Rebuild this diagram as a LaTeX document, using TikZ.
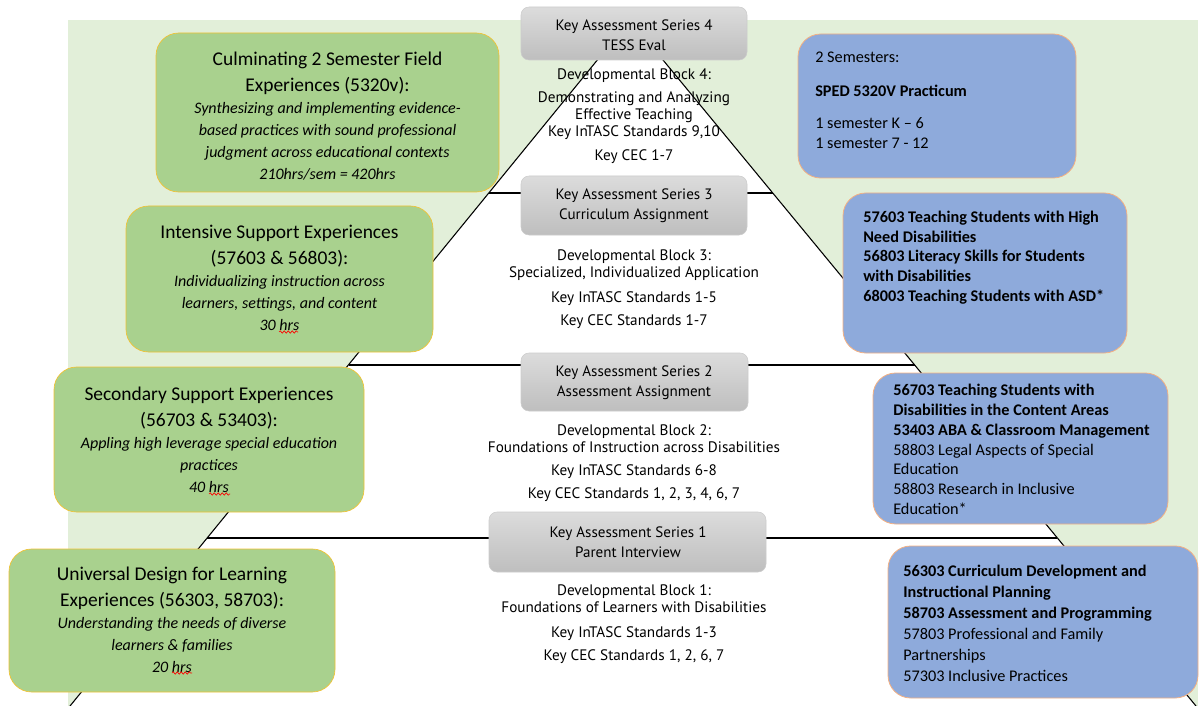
\documentclass[tikz,border=0pt]{standalone}
\usepackage{fontspec}
\setmainfont{Carlito}
\newfontfamily\gillfont{PT Sans}
\usetikzlibrary{fit,decorations.pathmorphing}

\definecolor{mapbg}{HTML}{E2EFD9}
\definecolor{leafgreen}{HTML}{A9D18E}
\definecolor{boxgold}{HTML}{F2C232}
\definecolor{skyblue}{HTML}{8EAADB}
\definecolor{boxorange}{HTML}{F4B183}
\definecolor{keytop}{HTML}{DCDCDC}
\definecolor{keybot}{HTML}{BEBEBE}

\newcommand\grtitle{\fontsize{14.6}{19}\selectfont}

\tikzset{
  pyrline/.style={line width=0.8, black},
  keybox/.style={draw=gray!40, top color=keytop, bottom color=keybot, rounded corners=6pt, inner sep=0pt},
  keytext/.style={align=center, inner sep=0pt, font=\gillfont\fontsize{11.3}{15.2}\selectfont},
  greenbox/.style={draw=boxgold, fill=leafgreen, line width=0.5, rounded corners=17pt, inner sep=0pt},
  greentext/.style={align=center, inner sep=0pt, font=\fontsize{12}{16.5}\selectfont},
  bluebox/.style={draw=boxorange, fill=skyblue, line width=0.6, rounded corners=17pt, inner sep=0pt},
  bluetext/.style={anchor=west, align=left, inner sep=0pt, font=\fontsize{12.2}{15}\selectfont},
  blocktext/.style={align=center, inner sep=0pt, font=\gillfont\fontsize{11.4}{12.75}\selectfont},
  spellwave/.style={red, line width=0.5, decorate, decoration={snake, amplitude=0.9, segment length=3}}
}

\begin{document}
\begin{tikzpicture}[x=0.75pt,y=0.75pt,yscale=-1,xscale=1]
\useasboundingbox (0,0) rectangle (1203,706);

%Background
\fill[mapbg] (68,20) rectangle (1198,706);
%Shape: Triangle
\fill[white] (630,20) -- (70,706) -- (1196,706) -- cycle;
\draw[pyrline] (70,706) -- (630,20) -- (1196,706);
%Straight Lines
\draw[pyrline] (489,193) -- (773,193);
\draw[pyrline, line width=1.6] (349,365) -- (915,365);
\draw[pyrline] (207,538) -- (1057,538);

%Key assessment boxes
\node[keybox, fit={(521,7) (747,60)}] (ka4) {};
\node[keybox, fit={(521,176) (747,235)}] (ka3) {};
\node[keybox, fit={(521,353) (748,411)}] (ka2) {};
\node[keybox, fit={(489,512) (766,572)}] (ka1) {};
\node[keytext] (ka4txt) at (634,35.5) {Key Assessment Series 4\\TESS Eval};
\node[keytext] (ka3txt) at (634,205.5) {Key Assessment Series 3\\Curriculum Assignment};
\node[keytext] (ka2txt) at (634,383) {Key Assessment Series 2\\Assessment Assignment};
\node[keytext] (ka1txt) at (628,542) {Key Assessment Series 1\\Parent Interview};

%Developmental blocks
\node[blocktext] (db4) at (634,116) {Developmental Block 4:\\[4.5pt] Demonstrating and Analyzing\\ Effective Teaching\\[0.5pt] Key InTASC Standards 9,10\\[5pt] Key CEC 1-7};
\node[blocktext] (db3) at (634,289.5) {Developmental Block 3:\\ Specialized, Individualized Application\\[6pt] Key InTASC Standards 1-5\\[4.5pt] Key CEC Standards 1-7};
\node[blocktext] (db2) at (634,463.5) {Developmental Block 2:\\ Foundations of Instruction across Disabilities\\[4.5pt] Key InTASC Standards 6-8\\[4.5pt] Key CEC Standards 1, 2, 3, 4, 6, 7};
\node[blocktext] (db1) at (634,624.5) {Developmental Block 1:\\ Foundations of Learners with Disabilities\\[6pt] Key InTASC Standards 1-3\\[4.5pt] Key CEC Standards 1, 2, 6, 7};

%Field experiences
\node[greenbox, fit={(156,33) (499,192)}] (cul) {};
\node[greenbox, fit={(126,206) (433,352)}] (ise) {};
\node[greenbox, fit={(54,367) (364,512)}] (sse) {};
\node[greenbox, fit={(9,549) (335,692)}] (udl) {};
\node[greentext] (cultxt) at (327.5,116.5) {{\grtitle Culminating 2 Semester Field}\\[3pt] {\grtitle Experiences (5320v):}\\ \textit{Synthesizing and implementing evidence-}\\ \textit{based practices with sound professional}\\ \textit{judgment across educational contexts}\\ \textit{210hrs/sem = 420hrs}};
\node[greentext] (isetxt) at (279.5,277.5) {{\grtitle Intensive Support Experiences}\\[3pt] {\grtitle (57603 \& 56803):}\\ \textit{Individualizing instruction across}\\ \textit{learners, settings, and content}\\ \textit{30 hrs}};
\node[greentext] (ssetxt) at (209,439.5) {{\grtitle Secondary Support Experiences}\\[3pt] {\grtitle (56703 \& 53403):}\\ \textit{Appling high leverage special education}\\ \textit{practices}\\ \textit{40 hrs}};
\node[greentext] (udltxt) at (172,619.5) {{\grtitle Universal Design for Learning}\\[3pt] {\grtitle Experiences (56303, 58703):}\\ \textit{Understanding the needs of diverse}\\ \textit{learners \& families}\\ \textit{20 hrs}};
%spelling marks
\draw[spellwave] (279,332) -- (298,332);
\draw[spellwave] (209,494) -- (230,494);
\draw[spellwave] (172,673) -- (192,673);

%Courses
\node[bluebox, fit={(798,34) (1076,178)}] (crs4) {};
\node[bluebox, fit={(843,193) (1127,353)}] (crs3) {};
\node[bluebox, fit={(873,373) (1168,524)}] (crs2) {};
\node[bluebox, fit={(888,546) (1198,698)}] (crs1) {};

\node[bluetext] (crs4txt) at (815,100) {2 Semesters:\\[10.5pt] \textbf{SPED 5320V Practicum}\\[9pt] 1 semester K – 6\\ 1 semester 7 - 12};
\node[bluetext, font=\bfseries\fontsize{12.2}{14.8}\selectfont] (crs3txt) at (863,257.5) {57603 Teaching Students with High\\ Need Disabilities\\ 56803 Literacy Skills for Students\\ with Disabilities\\ 68003 Teaching Students with ASD*};
\node[bluetext, font=\fontsize{12.2}{14.8}\selectfont] (crs2txt) at (893,449.5) {\textbf{56703 Teaching Students with}\\ \textbf{Disabilities in the Content Areas}\\ \textbf{53403 ABA \& Classroom Management}\\ 58803 Legal Aspects of Special\\ Education\\ 58803 Research in Inclusive\\ Education*};
\node[bluetext, font=\fontsize{12.2}{15.75}\selectfont] (crs1txt) at (903,623) {\textbf{56303 Curriculum Development and}\\ \textbf{Instructional Planning}\\ \textbf{58703 Assessment and Programming}\\ 57803 Professional and Family\\ Partnerships\\ 57303 Inclusive Practices};
\end{tikzpicture}
\end{document}
